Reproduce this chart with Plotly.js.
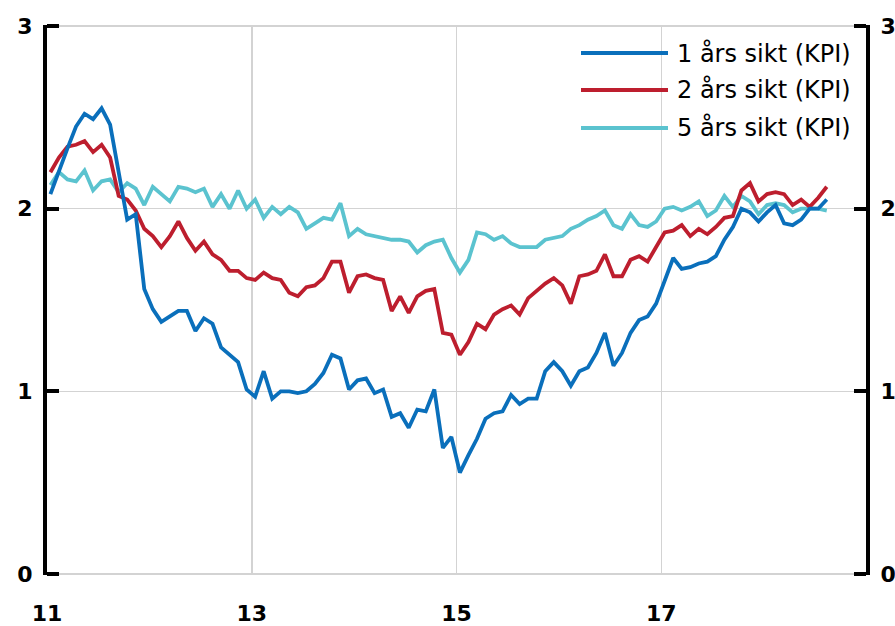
<!DOCTYPE html>
<html>
<head>
<meta charset="utf-8">
<script src="https://cdn.plot.ly/plotly-3.0.1.min.js"></script>
<style>html,body{margin:0;padding:0;background:#fff}#chart{width:895px;height:626px}</style>
</head>
<body>
<div id="chart"></div>
<script>
// Monthly observations, Jan 2011 - Aug 2018
const startYear = 11;
const seriesNames = ['1 års sikt (KPI)', '2 års sikt (KPI)', '5 års sikt (KPI)'];
const xTickVals = [11, 13, 15, 17];
const xTickText = ['11', '13', '15', '17'];
const yTickVals = [0, 1, 2, 3];

const oneYear = [
  2.08, 2.21, 2.33, 2.45, 2.52, 2.49, 2.55, 2.46, 2.20, 1.94, 1.97, 1.56,
  1.45, 1.38, 1.41, 1.44, 1.44, 1.33, 1.40, 1.37, 1.24, 1.20, 1.16, 1.01,
  0.97, 1.11, 0.96, 1.00, 1.00, 0.99, 1.00, 1.04, 1.10, 1.20, 1.18, 1.01,
  1.06, 1.07, 0.99, 1.01, 0.86, 0.88, 0.80, 0.90, 0.89, 1.01, 0.69, 0.75,
  0.555, 0.65, 0.74, 0.85, 0.88, 0.89, 0.98, 0.93, 0.96, 0.96, 1.11, 1.16,
  1.11, 1.03, 1.11, 1.13, 1.21, 1.32, 1.14, 1.21, 1.32, 1.39, 1.41, 1.48,
  1.60, 1.73, 1.67, 1.68, 1.70, 1.71, 1.74, 1.83, 1.90, 2.00, 1.98, 1.93,
  1.98, 2.02, 1.92, 1.91, 1.94, 2.00, 2.00, 2.05
];
const twoYear = [
  2.20, 2.28, 2.34, 2.35, 2.37, 2.31, 2.35, 2.28, 2.07, 2.05, 1.99, 1.89,
  1.85, 1.79, 1.85, 1.93, 1.84, 1.77, 1.82, 1.75, 1.72, 1.66, 1.66, 1.62,
  1.61, 1.65, 1.62, 1.61, 1.54, 1.52, 1.57, 1.58, 1.62, 1.71, 1.71, 1.54,
  1.63, 1.64, 1.62, 1.61, 1.44, 1.52, 1.43, 1.52, 1.55, 1.56, 1.32, 1.31,
  1.20, 1.27, 1.37, 1.34, 1.42, 1.45, 1.47, 1.42, 1.51, 1.55, 1.59, 1.62,
  1.58, 1.48, 1.63, 1.64, 1.66, 1.75, 1.63, 1.63, 1.72, 1.74, 1.71, 1.79,
  1.87, 1.88, 1.91, 1.85, 1.89, 1.86, 1.90, 1.95, 1.96, 2.10, 2.14, 2.04,
  2.08, 2.09, 2.08, 2.02, 2.05, 2.01, 2.06, 2.12
];
const fiveYear = [
  2.13, 2.20, 2.16, 2.15, 2.21, 2.10, 2.15, 2.16, 2.09, 2.14, 2.11, 2.02,
  2.12, 2.08, 2.04, 2.12, 2.11, 2.09, 2.11, 2.01, 2.08, 2.00, 2.10, 2.00,
  2.05, 1.95, 2.01, 1.97, 2.01, 1.98, 1.89, 1.92, 1.95, 1.94, 2.03, 1.85,
  1.89, 1.86, 1.85, 1.84, 1.83, 1.83, 1.82, 1.76, 1.80, 1.82, 1.83, 1.73,
  1.65, 1.72, 1.87, 1.86, 1.83, 1.85, 1.81, 1.79, 1.79, 1.79, 1.83, 1.84,
  1.85, 1.89, 1.91, 1.94, 1.96, 1.99, 1.91, 1.89, 1.97, 1.91, 1.90, 1.93,
  2.00, 2.01, 1.99, 2.01, 2.04, 1.96, 1.99, 2.07, 2.01, 2.07, 2.04, 1.97,
  2.02, 2.03, 2.02, 1.98, 2.00, 2.00, 2.00, 1.99
];

const colors = ['#0a6fbb', '#bd1e2e', '#5bc3cf'];
const months = oneYear.map((_, i) => startYear + (i + 0.4) / 12);

const plotLeft = 47, plotRight = 866, plotTop = 25, plotBottom = 575;
const W = 895, H = 626;
const px2paperX = p => (p - plotLeft) / (plotRight - plotLeft);
const px2paperY = p => (plotBottom - p) / (plotBottom - plotTop);

const allSeries = [oneYear, twoYear, fiveYear];
const order = [2, 1, 0];
const traces = order.map(k => ({
  x: months, y: allSeries[k], type: 'scatter', mode: 'lines',
  name: seriesNames[k], line: {color: colors[k], width: 3.8},
  showlegend: false, hoverinfo: 'skip'
}));
// invisible copy on the right-hand axis so that axis is drawn
traces.push({x: months, y: fiveYear, yaxis: 'y2', type: 'scatter', mode: 'lines',
  line: {color: 'rgba(0,0,0,0)', width: 0}, showlegend: false, hoverinfo: 'skip'});

const legendRowsPx = [53, 90, 128];
const shapes = [], annotations = [];
seriesNames.forEach((nm, k) => {
  const yy = px2paperY(legendRowsPx[k]);
  shapes.push({type: 'line', xref: 'paper', yref: 'paper',
    x0: px2paperX(581), x1: px2paperX(668), y0: yy, y1: yy,
    line: {color: colors[k], width: 4}});
  annotations.push({xref: 'paper', yref: 'paper', x: px2paperX(675), y: yy,
    xanchor: 'left', yanchor: 'middle', showarrow: false, text: nm,
    font: {family: 'DejaVu Sans', size: 24, color: '#000'}});
});

const yRange = [-0.006, 3.006];
const tickFont = {family: 'DejaVu Sans', size: 22, color: '#000', weight: 'bold'};
const layout = {
  width: W, height: H,
  margin: {l: plotLeft, r: W - plotRight, t: plotTop, b: H - plotBottom, pad: 0},
  paper_bgcolor: '#fff', plot_bgcolor: '#fff',
  showlegend: false,
  xaxis: {range: [11, 19], tickmode: 'array', tickvals: xTickVals, ticktext: xTickText,
    showgrid: true, gridcolor: '#d3d3d3', gridwidth: 1.5, zeroline: false,
    showline: false, ticks: '', tickfont: tickFont, ticklabelstandoff: 23, fixedrange: true},
  yaxis: {range: yRange, tickmode: 'array', tickvals: yTickVals,
    showgrid: true, gridcolor: '#d3d3d3', gridwidth: 1.5, zeroline: false,
    showline: true, linecolor: '#000', linewidth: 4,
    ticks: 'inside', ticklen: 12, tickwidth: 4, tickcolor: '#000',
    tickfont: tickFont, ticklabelstandoff: 6, fixedrange: true},
  yaxis2: {range: yRange, tickmode: 'array', tickvals: yTickVals, overlaying: 'y', side: 'right',
    anchor: 'x', showgrid: false, zeroline: false,
    showline: true, linecolor: '#000', linewidth: 4,
    ticks: 'inside', ticklen: 12, tickwidth: 4, tickcolor: '#000',
    tickfont: tickFont, ticklabelstandoff: 6, fixedrange: true},
  shapes: shapes, annotations: annotations
};

Plotly.newPlot('chart', traces, layout, {staticPlot: true, displayModeBar: false});
</script>
</body>
</html>
